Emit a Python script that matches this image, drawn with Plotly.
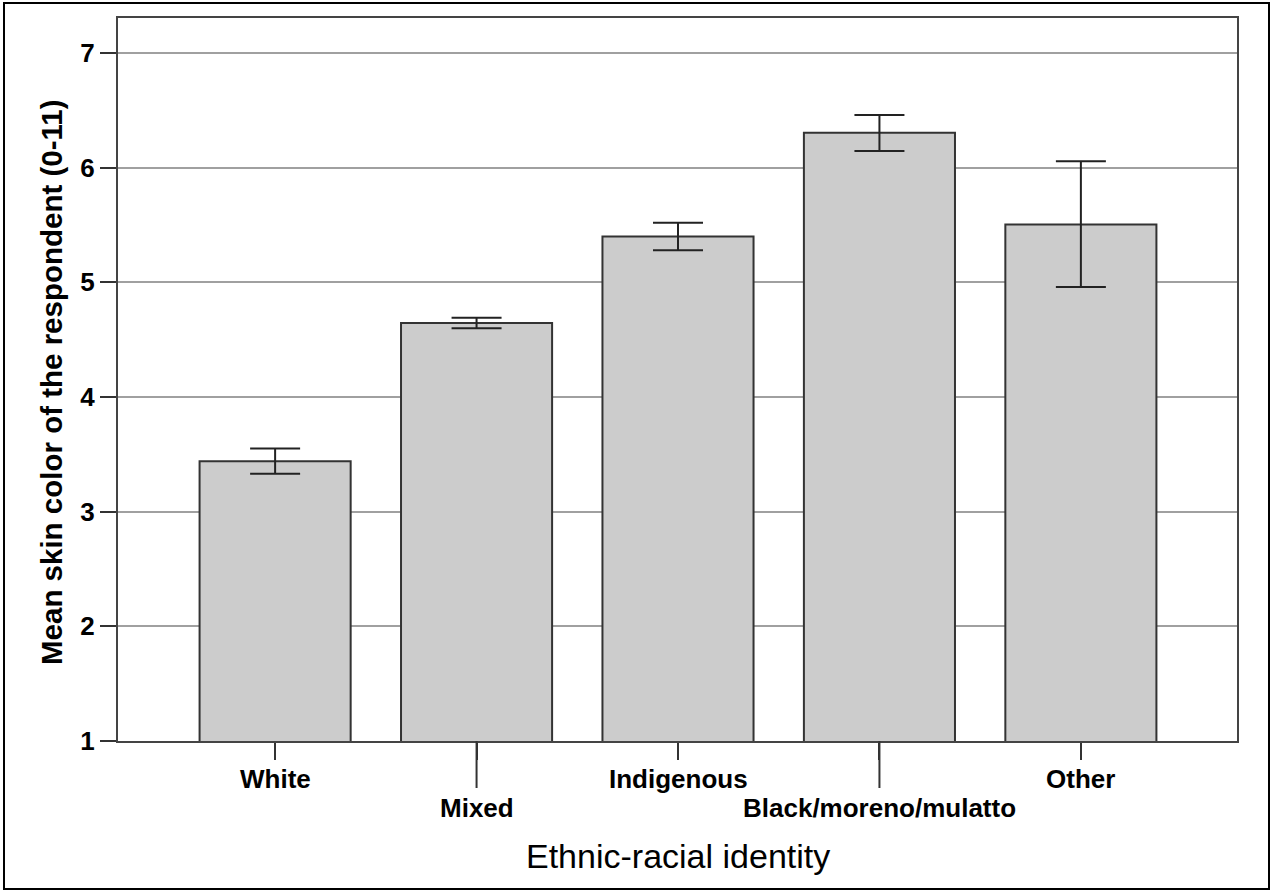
import plotly.graph_objects as go

# Mean skin colour by ethnic-racial identity, with 95% confidence intervals
categories = ["White", "Mixed", "Indigenous", "Black/moreno/mulatto", "Other"]
mean_skin = [3.44, 4.645, 5.40, 6.305, 5.505]
ci_low = [3.33, 4.60, 5.28, 6.145, 4.96]
ci_high = [3.55, 4.69, 5.52, 6.46, 6.055]
y_ticks = [1, 2, 3, 4, 5, 6, 7]

x_pos = list(range(len(categories)))
err_up = [h - m for h, m in zip(ci_high, mean_skin)]
err_down = [m - l for m, l in zip(mean_skin, ci_low)]

FONT = "Liberation Sans, Arial, Helvetica, sans-serif"

fig = go.Figure()
fig.add_trace(go.Bar(
    x=x_pos,
    y=mean_skin,
    width=0.75,
    marker=dict(color="#cccccc", line=dict(color="#333333", width=2)),
    error_y=dict(
        type="data",
        symmetric=False,
        array=err_up,
        arrayminus=err_down,
        color="#222222",
        thickness=2,
        width=25,
    ),
    showlegend=False,
    hoverinfo="skip",
))

fig.update_layout(
    width=1271,
    height=891,
    margin=dict(l=118, r=34, t=18, b=150),
    paper_bgcolor="white",
    plot_bgcolor="white",
    font=dict(family=FONT, color="black"),
    bargap=0.25,
)

fig.update_xaxes(
    range=[-0.78, 4.775],
    tickvals=x_pos,
    showticklabels=False,
    ticks="outside",
    ticklen=17,
    tickwidth=2,
    tickcolor="#333333",
    showgrid=False,
    zeroline=False,
    showline=True,
    linecolor="#444444",
    linewidth=2,
    mirror=True,
)

fig.update_yaxes(
    range=[1, 7.305],
    tickvals=y_ticks,
    ticktext=[str(v) for v in y_ticks],
    ticks="outside",
    ticklen=16,
    tickwidth=2,
    tickcolor="#333333",
    tickfont=dict(family=FONT, size=26, weight="bold", color="black"),
    showgrid=True,
    gridcolor="#a0a0a0",
    gridwidth=1.5,
    zeroline=False,
    showline=True,
    linecolor="#444444",
    linewidth=2,
    mirror=True,
)

# Category labels in two staggered rows; the lower row gets longer ticks
for i, name in enumerate(categories):
    lower = i % 2 == 1
    fig.add_annotation(
        x=i, xref="x", y=0, yref="paper",
        text=f"<b>{name}</b>",
        showarrow=False,
        xanchor="center", yanchor="middle",
        yshift=-66.5 if lower else -37.5,
        font=dict(family=FONT, size=26, color="black"),
    )
    if lower:
        fig.add_shape(
            type="line", xref="x", yref="paper",
            x0=i, x1=i, ysizemode="pixel", yanchor=0, y0=0, y1=-47,
            line=dict(color="#333333", width=2),
        )

# Axis titles
fig.add_annotation(
    x=0.5, xref="paper", y=0, yref="paper",
    text="Ethnic-racial identity",
    showarrow=False, xanchor="center", yanchor="middle", yshift=-115,
    font=dict(family=FONT, size=34, color="black"),
)
fig.add_annotation(
    x=-0.0599, xref="paper", y=0.4965, yref="paper",
    text="<b>Mean skin color of the respondent (0-11)</b>",
    showarrow=False, textangle=-90, xanchor="center", yanchor="middle",
    font=dict(family=FONT, size=29.5, color="black"),
)

# Outer frame around the whole chart
fig.add_shape(
    type="rect", xref="paper", yref="paper",
    x0=-0.10188, x1=1.0286, y0=-0.2047, y1=1.0207,
    line=dict(color="black", width=2),
    fillcolor="rgba(0,0,0,0)",
)

fig.write_html("out.html")
